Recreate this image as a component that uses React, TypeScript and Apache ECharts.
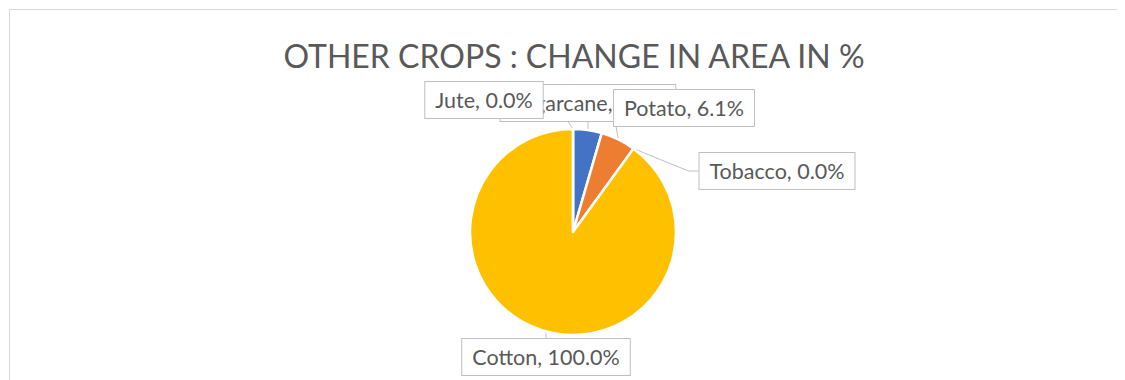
import React, { useEffect, useRef } from "react";
import * as echarts from "echarts";

const titleText = "OTHER CROPS : CHANGE IN AREA IN %";
const categories = ["Sugarcane", "Potato", "Tobacco", "Cotton", "Jute"];
const values = [5.0, 6.1, 0.0, 100.0, 0.0];
const colors = ["#4472C4", "#ED7D31", "#A5A5A5", "#FFC000", "#5B9BD5"];
// label box centres (px inside the chart div), Excel-style manual label placement
const labelPositions: [number, number][] = [
  [580, 95],
  [676, 100],
  [769, 163],
  [538, 349],
  [476, 92],
];

const FONT = "Lato, 'Open Sans', sans-serif";

export default function App() {
  const ref = useRef<HTMLDivElement>(null);
  useEffect(() => {
    if (!ref.current) return;
    const chart = echarts.init(ref.current, undefined, { renderer: "svg" });
    chart.setOption({
      animation: false,
      backgroundColor: "#ffffff",
      title: {
        text: titleText,
        left: 561,
        top: 26,
        textAlign: "center",
        textStyle: {
          fontFamily: FONT,
          fontSize: 32,
          fontWeight: "normal",
          color: "#595959",
        },
      },
      graphic: [
        {
          type: "polyline",
          shape: { points: [[1.5, 380], [1.5, 1.5], [1117, 1.5]] },
          style: { stroke: "#d9d9d9", lineWidth: 1, fill: null },
          silent: true,
        },
      ],
      series: [
        {
          type: "pie",
          center: [565, 224],
          radius: 103,
          startAngle: 90,
          clockwise: true,
          avoidLabelOverlap: false,
          stillShowZeroSum: true,
          itemStyle: { borderColor: "#ffffff", borderWidth: 2.5 },
          data: categories.map((name, i) => ({
            name,
            value: values[i],
            itemStyle: { color: colors[i] },
          })),
          label: {
            show: true,
            position: "outside",
            formatter: (p: any) => `${p.name}, ${Number(p.value).toFixed(1)}%`,
            fontFamily: FONT,
            fontSize: 21.5,
            color: "#595959",
            backgroundColor: "#ffffff",
            borderColor: "#bfbfbf",
            borderWidth: 1,
            padding: [7, 10, 7, 10],
          },
          labelLine: {
            show: true,
            length: 10,
            length2: 10,
            lineStyle: { color: "#bfbfbf", width: 1 },
          },
          labelLayout: (params: any) => {
            const pos = labelPositions[params.dataIndex];
            return {
              x: pos[0],
              y: pos[1],
              align: "center",
              verticalAlign: "middle",
            };
          },
        },
      ],
    });
    return () => chart.dispose();
  }, []);
  return <div ref={ref} style={{ width: 1117, height: 372 }} />;
}
